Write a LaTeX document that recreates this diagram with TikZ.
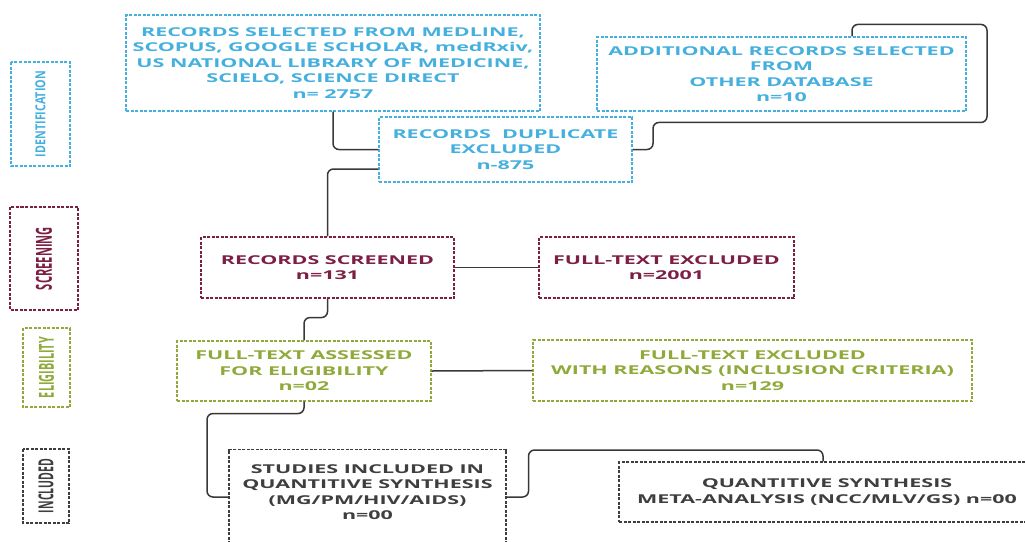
\documentclass[tikz,border=0pt]{standalone}
\usepackage{fontspec}
\setmainfont{Open Sans}
\newfontfamily\boxfont[FakeStretch = 1.76]{Open Sans}
\newfontfamily\sidefont{Open Sans}
\usetikzlibrary{calc}
\definecolor{idblue}{HTML}{45B0DE}
\definecolor{scrred}{HTML}{7D1F44}
\definecolor{eligreen}{HTML}{8FAA3A}
\definecolor{incgray}{HTML}{3E3E3E}
\definecolor{linkgray}{HTML}{383838}
\newcommand\sidetext[3]{\resizebox{#1}{#2}{\sidefont\bfseries #3}}

\begin{document}
\begin{tikzpicture}[x = 1pt, y = -1pt,
    link/.style = {draw = linkgray, line width = 1.5pt, rounded corners = 6pt},
    stagebox/.style = {draw = #1, text = #1, dash pattern = on 3pt off 1.5pt, line width = 1.1pt, rotate = 90, inner sep = 0pt},
    flowbox/.style = {draw = #1, text = #1, dash pattern = on 3pt off 1.5pt, line width = 1.1pt, align = center, inner sep = 0pt,
      font = \boxfont\bfseries\fontsize{12.2}{15.5}\selectfont}]
  \clip (0,0) rectangle (1025,541);

  \node[stagebox = idblue, minimum width = 104pt, minimum height = 59pt] (ident) at (40.5,114) {\sidetext{86pt}{10pt}{IDENTIFICATION}};
  \node[stagebox = scrred, minimum width = 103pt, minimum height = 68pt] (screen) at (44,258.5) {\sidetext{63pt}{16pt}{SCREENING}};
  \node[stagebox = eligreen, minimum width = 79pt, minimum height = 47pt] (elig) at (46.5,367.5) {\sidetext{61pt}{15pt}{ELIGIBILITY}};
  \node[stagebox = incgray, minimum width = 74pt, minimum height = 46pt] (incl) at (46,486) {\sidetext{54pt}{15pt}{INCLUDED}};

  \node[flowbox = idblue, minimum width = 414pt, minimum height = 96pt] (sel) at (333,63)
    {RECORDS SELECTED FROM MEDLINE,\\ SCOPUS, GOOGLE SCHOLAR, medRxiv,\\ US NATIONAL LIBRARY OF MEDICINE,\\ SCIELO, SCIENCE DIRECT\\ n= 2757};
  \node[flowbox = idblue, minimum width = 369pt, minimum height = 74pt] (add) at (781.5,74)
    {ADDITIONAL RECORDS SELECTED\\ FROM\\ OTHER DATABASE\\ n=10};
  \node[flowbox = idblue, minimum width = 253pt, minimum height = 65pt] (dup) at (505.5,149.5)
    {RECORDS\ \ DUPLICATE\\ EXCLUDED\\ n-875};
  \node[flowbox = scrred, minimum width = 253pt, minimum height = 61pt] (scr) at (327.5,267.5)
    {RECORDS SCREENED\\ n=131};
  \node[flowbox = scrred, minimum width = 255pt, minimum height = 61pt] (ftx) at (666.5,267.5)
    {FULL-TEXT EXCLUDED\\ n=2001};
  \node[flowbox = eligreen, minimum width = 254pt, minimum height = 60pt] (ass) at (304,371)
    {FULL-TEXT ASSESSED\\ FOR ELIGIBILITY\\ n=02};
  \node[flowbox = eligreen, minimum width = 439pt, minimum height = 61pt] (rsn) at (752.5,370.5)
    {FULL-TEXT EXCLUDED\\ WITH REASONS (INCLUSION CRITERIA)\\ n=129};
  \node[flowbox = incgray, minimum width = 277pt, anchor = north, inner ysep = 15pt, text depth = 70pt] (stud) at (367.5,449)
    {STUDIES INCLUDED IN\\ QUANTITIVE SYNTHESIS\\ (MG/PM/HIV/AIDS)\\ n=00};
  \node[flowbox = incgray, minimum width = 416pt, minimum height = 60pt] (qnt) at (827,492)
    {QUANTITIVE SYNTHESIS\\ META-ANALYSIS (NCC/MLV/GS) n=00};

  \draw[link] (sel.south) |- (dup.west);
  \draw[link] ([xshift = 70.5pt]add.north) |- ++(135,-12) |- ++(-334,98) |- (dup.east);
  \draw[link] ([yshift = -19.5pt]dup.west) -| (scr.north);
  \draw[link] (scr.east) -- (ftx.west);
  \draw[link] (scr.south) -- ++(0,19) -| (ass.north);
  \draw[link] (ass.east) -- (rsn.west);
  \draw[link] (ass.south) |- ++(-97,12) |- ([yshift = -48pt]stud.north west);
  \draw[link] ([yshift = -48pt]stud.north east) -| ++(22,-47) -| ([xshift = -4pt]qnt.north);
\end{tikzpicture}
\end{document}
